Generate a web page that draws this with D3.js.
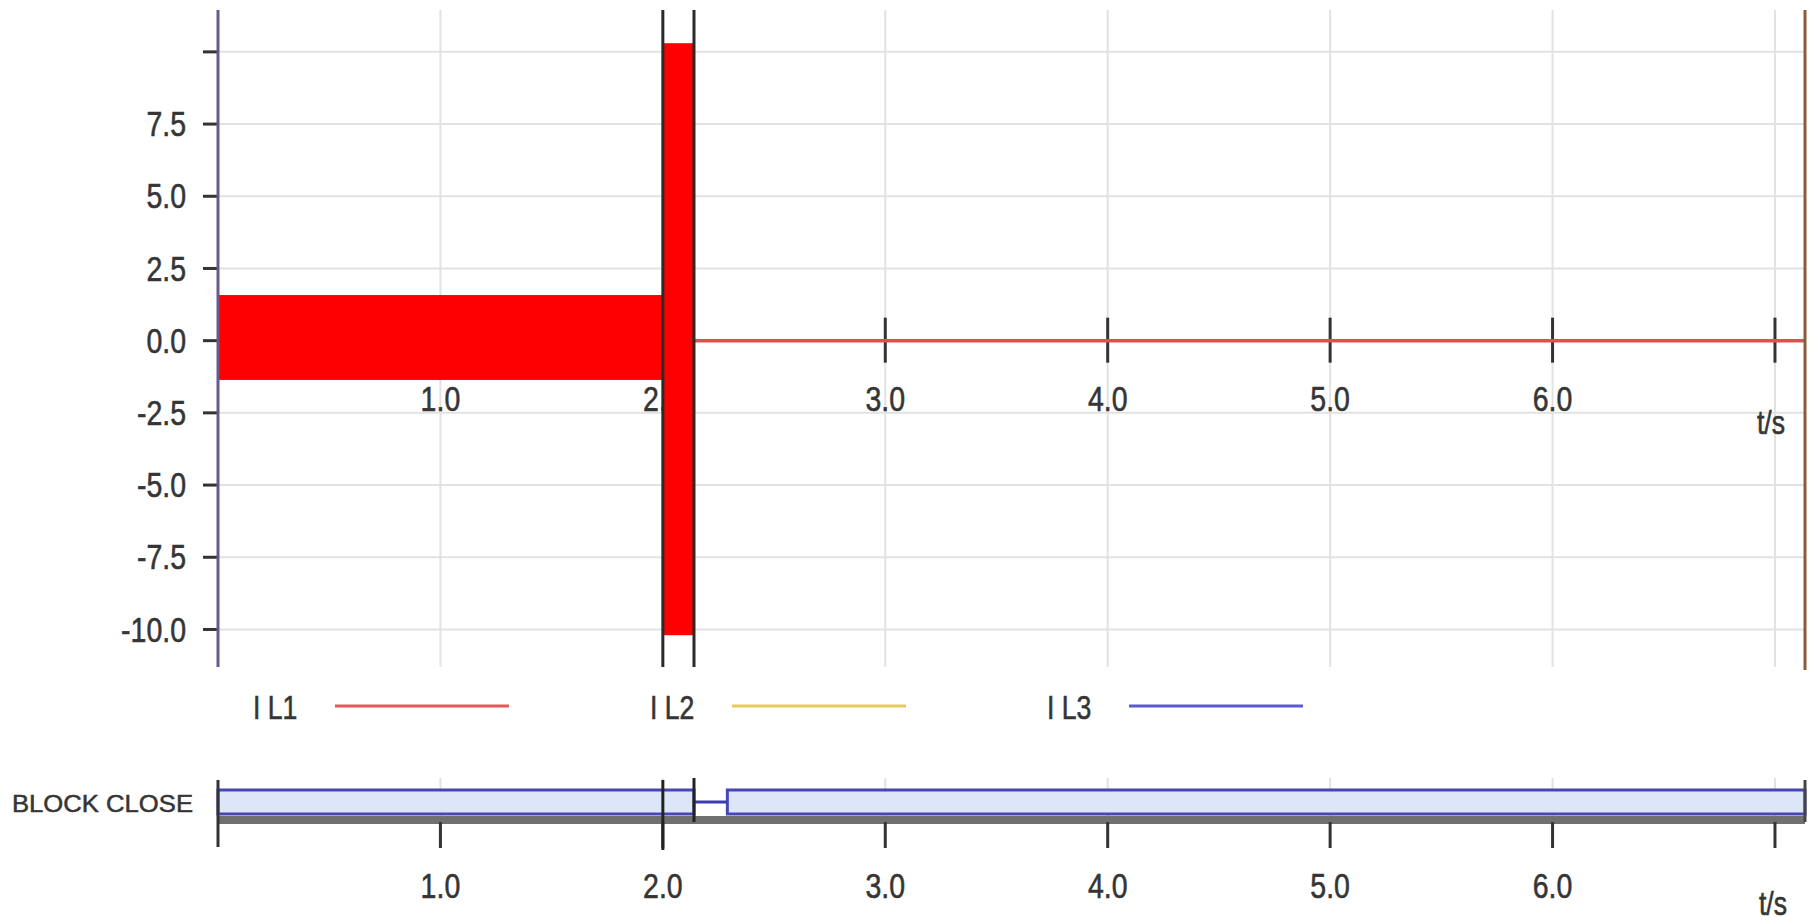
<!DOCTYPE html>
<html>
<head>
<meta charset="utf-8">
<script src="https://cdn.jsdelivr.net/npm/d3@7"></script>
<style>
  body { margin: 0; background: #fff; }
  svg { display: block; font-family: "Liberation Sans", Arial, sans-serif; }
  .lbl { fill: #353535; stroke: #353535; stroke-width: 0.5; }
</style>
</head>
<body>
<svg id="chart" width="1814" height="920"></svg>
<script>
// values
const yTicks = [-10, -7.5, -5, -2.5, 0, 2.5, 5, 7.5, 10]
const yLabels = ["-10.0", "-7.5", "-5.0", "-2.5", "0.0", "2.5", "5.0", "7.5", ""]
const xTicks = [1, 2, 3, 4, 5, 6, 7]
const xLabels = ["1.0", "2.0", "3.0", "4.0", "5.0", "6.0", ""]
const xUnit = "t/s"

// I L1 envelope (signal too dense to show single cycles)
const envStart = [0, 2.0, 2.14]
const envEnd = [2.0, 2.14, 7.135]
const envMax = [1.58, 10.3, 0]
const envMin = [-1.36, -10.2, 0]

// cursor markers
const cursors = [2.0, 2.14]

// binary channel
const blockName = "BLOCK CLOSE"
const blockStart = [0, 2.14, 2.29]
const blockEnd = [2.14, 2.29, 7.135]
const blockState = [1, 0, 1]

const legendNames = ["I L1", "I L2", "I L3"]
const legendColors = ["#e25a5a", "#e9c95c", "#5a5ad0"]

const svg = d3.select("#chart")

const x = d3.scaleLinear().domain([0, 7.135]).range([218, 1805])
const y = d3.scaleLinear().domain([-11.3, 11.45]).range([667, 10])
const plotTop = 10, plotBottom = 667

// the recorder font is narrow and tall, so stretch the glyphs a bit
function label(g, px, py, anchor, size) {
  return g.append("text")
    .attr("class", "lbl")
    .attr("transform", "translate(" + px + "," + py + ") scale(0.95,1.2)")
    .attr("text-anchor", anchor).attr("dominant-baseline", "central")
    .attr("font-size", size)
}

// ---- main analog panel ----
const grid = svg.append("g")
grid.selectAll(".vg").data(xTicks).enter().append("line")
  .attr("x1", d => x(d)).attr("x2", d => x(d))
  .attr("y1", plotTop).attr("y2", plotBottom)
  .attr("stroke", "#e2e2e2").attr("stroke-width", 2)
grid.selectAll(".hg").data(yTicks).enter().append("line")
  .attr("x1", x(0)).attr("x2", x.range()[1])
  .attr("y1", d => y(d)).attr("y2", d => y(d))
  .attr("stroke", "#e2e2e2").attr("stroke-width", 2)

// x ticks crossing the zero line
svg.append("g").selectAll("line").data(xTicks).enter().append("line")
  .attr("x1", d => x(d)).attr("x2", d => x(d))
  .attr("y1", y(0) - 23).attr("y2", y(0) + 22)
  .attr("stroke", "#333").attr("stroke-width", 3)

const xl = svg.append("g")
xTicks.forEach((d, i) => label(xl, x(d), 399, "middle", 30).text(xLabels[i]))
label(xl, x(7) - 4, 422, "middle", 28).text(xUnit)

// y axis ticks + labels
svg.append("g").selectAll("line").data(yTicks).enter().append("line")
  .attr("x1", x(0) - 15).attr("x2", x(0))
  .attr("y1", d => y(d)).attr("y2", d => y(d))
  .attr("stroke", "#333").attr("stroke-width", 3)
const yl = svg.append("g")
yTicks.forEach((d, i) => label(yl, 186, y(d), "end", 30).text(yLabels[i]))

// envelope of I L1
const env = envStart.map((t, i) => ({t0: t, t1: envEnd[i], hi: envMax[i], lo: envMin[i]}))
svg.append("g").selectAll("rect").data(env.filter(d => d.hi - d.lo > 0.01)).enter().append("rect")
  .attr("x", d => x(d.t0)).attr("width", d => x(d.t1) - x(d.t0))
  .attr("y", d => y(d.hi)).attr("height", d => y(d.lo) - y(d.hi))
  .attr("fill", "#ff0000")
svg.append("g").selectAll("line").data(env.filter(d => d.hi - d.lo <= 0.01)).enter().append("line")
  .attr("x1", d => x(d.t0)).attr("x2", d => x(d.t1))
  .attr("y1", d => y(d.hi)).attr("y2", d => y(d.hi))
  .attr("stroke", "#e0504f").attr("stroke-width", 3.5)

// cursors
svg.append("g").selectAll("line").data(cursors).enter().append("line")
  .attr("x1", d => x(d)).attr("x2", d => x(d))
  .attr("y1", plotTop).attr("y2", plotBottom)
  .attr("stroke", "#2a2a2a").attr("stroke-width", 3)

// frame lines
svg.append("line").attr("x1", x(0)).attr("x2", x(0))
  .attr("y1", plotTop).attr("y2", plotBottom)
  .attr("stroke", "#6a5a8c").attr("stroke-width", 3)
svg.append("line").attr("x1", x.range()[1]).attr("x2", x.range()[1])
  .attr("y1", plotTop).attr("y2", 670)
  .attr("stroke", "#8c5a3c").attr("stroke-width", 3)

// ---- legend ----
const legend = svg.append("g").selectAll("g").data(legendNames).enter().append("g")
  .attr("transform", (d, i) => "translate(" + (253 + i * 397) + ",707)")
legend.each(function(d) { label(d3.select(this), 0, 0, "start", 28).text(d) })
legend.append("line").attr("x1", 82).attr("x2", 256).attr("y1", -1).attr("y2", -1)
  .attr("stroke", (d, i) => legendColors[i]).attr("stroke-width", 3)

// ---- binary panel ----
const bTop = 790, bBot = 814, bMid = 802
svg.append("text").attr("class", "lbl").attr("x", 12).attr("y", 803)
  .attr("dominant-baseline", "central").attr("font-size", 24)
  .attr("textLength", 181).attr("lengthAdjust", "spacingAndGlyphs")
  .text(blockName)

svg.append("g").selectAll("line").data(xTicks).enter().append("line")
  .attr("x1", d => x(d)).attr("x2", d => x(d))
  .attr("y1", 778).attr("y2", 822)
  .attr("stroke", "#e2e2e2").attr("stroke-width", 2)

svg.append("rect").attr("x", x(0)).attr("width", x.range()[1] - x(0))
  .attr("y", 816).attr("height", 8).attr("fill", "#707070")

const blocks = blockStart.map((t, i) => ({t0: t, t1: blockEnd[i], s: blockState[i]}))
svg.append("g").selectAll("rect").data(blocks.filter(d => d.s === 1)).enter().append("rect")
  .attr("x", d => x(d.t0)).attr("width", d => x(d.t1) - x(d.t0))
  .attr("y", bTop).attr("height", bBot - bTop)
  .attr("fill", "#dce6f8").attr("stroke", "#4646b4").attr("stroke-width", 3)
svg.append("g").selectAll("line").data(blocks.filter(d => d.s === 0)).enter().append("line")
  .attr("x1", d => x(d.t0)).attr("x2", d => x(d.t1))
  .attr("y1", bMid).attr("y2", bMid)
  .attr("stroke", "#3c3cae").attr("stroke-width", 3)

svg.append("g").selectAll("line").data(xTicks).enter().append("line")
  .attr("x1", d => x(d)).attr("x2", d => x(d))
  .attr("y1", 822).attr("y2", 848)
  .attr("stroke", "#333").attr("stroke-width", 3)

// cursor marks through the binary panel
svg.append("line").attr("x1", x(cursors[0])).attr("x2", x(cursors[0]))
  .attr("y1", 780).attr("y2", 850).attr("stroke", "#222").attr("stroke-width", 3)
svg.append("line").attr("x1", x(cursors[1])).attr("x2", x(cursors[1]))
  .attr("y1", 778).attr("y2", 822).attr("stroke", "#222").attr("stroke-width", 3)
svg.append("line").attr("x1", x(0)).attr("x2", x(0))
  .attr("y1", 780).attr("y2", 847).attr("stroke", "#333").attr("stroke-width", 3)
svg.append("line").attr("x1", x.range()[1]).attr("x2", x.range()[1])
  .attr("y1", 780).attr("y2", 822).attr("stroke", "#444").attr("stroke-width", 3)

const bl = svg.append("g")
xTicks.forEach((d, i) => label(bl, x(d), 886, "middle", 30).text(xLabels[i]))
label(bl, x(7) - 2, 903, "middle", 28).text(xUnit)
</script>
</body>
</html>
